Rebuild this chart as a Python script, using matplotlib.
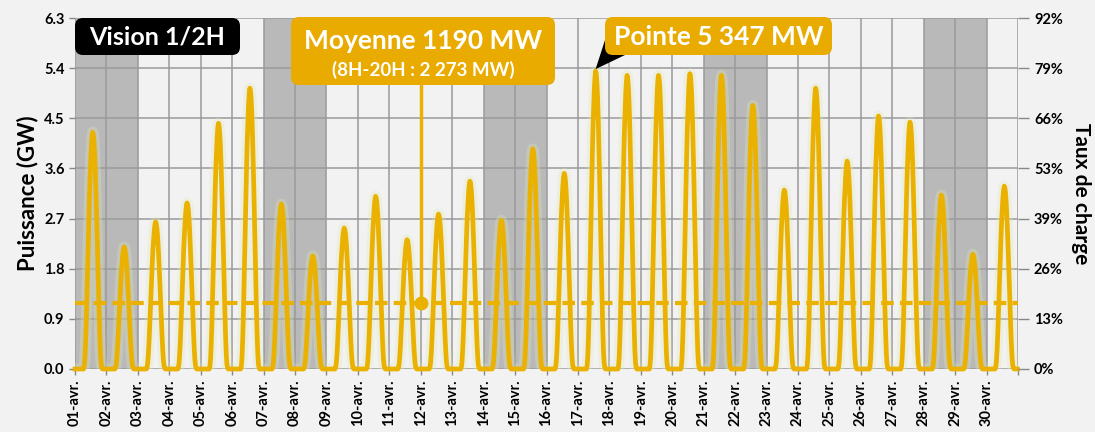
import numpy as np
import matplotlib
matplotlib.use("Agg")
import matplotlib.pyplot as plt
from matplotlib.patches import FancyBboxPatch, Polygon
from matplotlib.transforms import IdentityTransform

plt.rcParams['font.family'] = ['Lato', 'DejaVu Sans']
plt.rcParams['font.weight'] = 'bold'

# day labels and shaded (week-end / holiday) days
days = ["01-avr.", "02-avr.", "03-avr.", "04-avr.", "05-avr.", "06-avr.", "07-avr.",
        "08-avr.", "09-avr.", "10-avr.", "11-avr.", "12-avr.", "13-avr.", "14-avr.",
        "15-avr.", "16-avr.", "17-avr.", "18-avr.", "19-avr.", "20-avr.", "21-avr.",
        "22-avr.", "23-avr.", "24-avr.", "25-avr.", "26-avr.", "27-avr.", "28-avr.",
        "29-avr.", "30-avr."]
grey_days = [1, 2, 7, 8, 14, 15, 21, 22, 28, 29]

# daily peak (GW)
daily_peak = [4.25, 2.19, 2.64, 2.98, 4.41, 5.04, 2.96, 2.03, 2.53, 3.10,
              2.32, 2.78, 3.37, 2.67, 3.95, 3.51, 5.347, 5.27, 5.27, 5.30,
              5.27, 4.73, 3.21, 5.04, 3.73, 4.54, 4.43, 3.12, 2.06, 3.28]

# normalised half-hourly shape of a day (00:00 .. 23:30)
day_shape = [0, 0, 0, 0, 0, 0, 0, 0, 0, 0, 0, 0, 0, 0,
             0.01, 0.04, 0.10, 0.18, 0.28, 0.39, 0.50, 0.61, 0.72, 0.81,
             0.88, 0.94, 0.98, 1.00, 0.99, 0.96, 0.91, 0.84, 0.75, 0.65,
             0.54, 0.43, 0.32, 0.22, 0.13, 0.06, 0.02, 0.005, 0, 0, 0, 0, 0, 0]

y_ticks = [0.0, 0.9, 1.8, 2.7, 3.6, 4.5, 5.4, 6.3]
taux_labels = ["0%", "13%", "26%", "39%", "53%", "66%", "79%", "92%"]
moyenne_gw = 1.19

power = np.concatenate([p * np.array(day_shape) for p in daily_peak])
t = np.arange(len(power)) / 48.0

line_col = '#EAB100'
box_col = '#E9AB00'
bg = '#F2F2F2'

fig = plt.figure(figsize=(10.95, 4.32), dpi=100, facecolor=bg)
ax = fig.add_axes([75/1095, 63/432, 943/1095, 351/432])
ax.set_facecolor(bg)

for d in grey_days:
    ax.axvspan(d - 1, d, color='#B9B9B9', lw=0, zorder=0)

ax.set_xlim(0, 30)
ax.set_ylim(0, 6.3)
ax.set_xticks(range(31))
ax.set_xticklabels(days + [""], rotation=90, fontsize=10.5, fontweight='bold')
ax.set_yticks(y_ticks)
ax.set_yticklabels([f"{v:.1f}" for v in y_ticks], fontsize=10.5, fontweight='bold')
ax.grid(True, color='#9A9A9A', lw=1.1, zorder=1)
ax.tick_params(axis='both', colors='#888888', labelcolor='black', length=4, width=1)
for s in ax.spines.values():
    s.set_visible(False)
ax.set_ylabel("Puissance (GW)", fontsize=16, fontweight='bold', labelpad=4)

# glow + curve
ax.plot(t, power, color='#E4EAB0', lw=8, alpha=0.3, zorder=2, solid_capstyle='round')
ax.plot(t, power, color=line_col, lw=3.4, zorder=3, clip_on=False, solid_joinstyle='round')

# mean
ax.plot([0, 30], [moyenne_gw, moyenne_gw], color=line_col, lw=3, dashes=(3, 1.5), zorder=3)
ax.plot([11, 11], [moyenne_gw, 5.3], color=line_col, lw=2.5, zorder=4)
ax.plot([11], [moyenne_gw], 'o', color=line_col, ms=9, zorder=5)

ax2 = ax.twinx()
ax2.set_ylim(0, 6.3)
ax2.set_yticks(y_ticks)
ax2.set_yticklabels(taux_labels, fontsize=10.5, fontweight='bold')
ax2.tick_params(axis='y', colors='#888888', labelcolor='black', length=8, width=1)
for s in ax2.spines.values():
    s.set_visible(False)
ax2.set_ylabel("Taux de charge", fontsize=15, fontweight='bold', rotation=270, labelpad=20)

H = 432
def box(x0, y0, x1, y1, color):
    p = FancyBboxPatch((x0, H - y1), x1 - x0, y1 - y0,
                       boxstyle="round,pad=0,rounding_size=8",
                       transform=IdentityTransform(), facecolor=color,
                       edgecolor='none', zorder=10)
    fig.patches.append(p)

box(75, 18, 240, 55, 'black')
fig.text(157.5/1095, 1 - 37/H, "Vision 1/2H", color='white', fontsize=18,
         fontweight='bold', ha='center', va='center', zorder=20)

box(291, 17, 555, 85, box_col)
fig.text(423/1095, 1 - 41/H, "Moyenne 1190 MW", color='white', fontsize=19,
         fontweight='bold', ha='center', va='center', zorder=20)
fig.text(423/1095, 1 - 70/H, "(8H-20H : 2 273 MW)", color='white', fontsize=13.5,
         fontweight='bold', ha='center', va='center', zorder=20)

# pointer to the peak
i_peak = int(np.argmax(power))
tip = ax.transData.transform((t[i_peak], power[i_peak]))
tri = Polygon([(tip[0], tip[1] + 2), (606, H - 37), (625, H - 55)],
              closed=True, transform=IdentityTransform(), facecolor='black',
              edgecolor='none', zorder=9)
fig.patches.append(tri)
box(605, 17, 832, 55, box_col)
fig.text(718.5/1095, 1 - 37/H, "Pointe 5 347 MW", color='white', fontsize=19,
         fontweight='bold', ha='center', va='center', zorder=20)

fig.savefig("out.png", dpi=100, facecolor=bg)
